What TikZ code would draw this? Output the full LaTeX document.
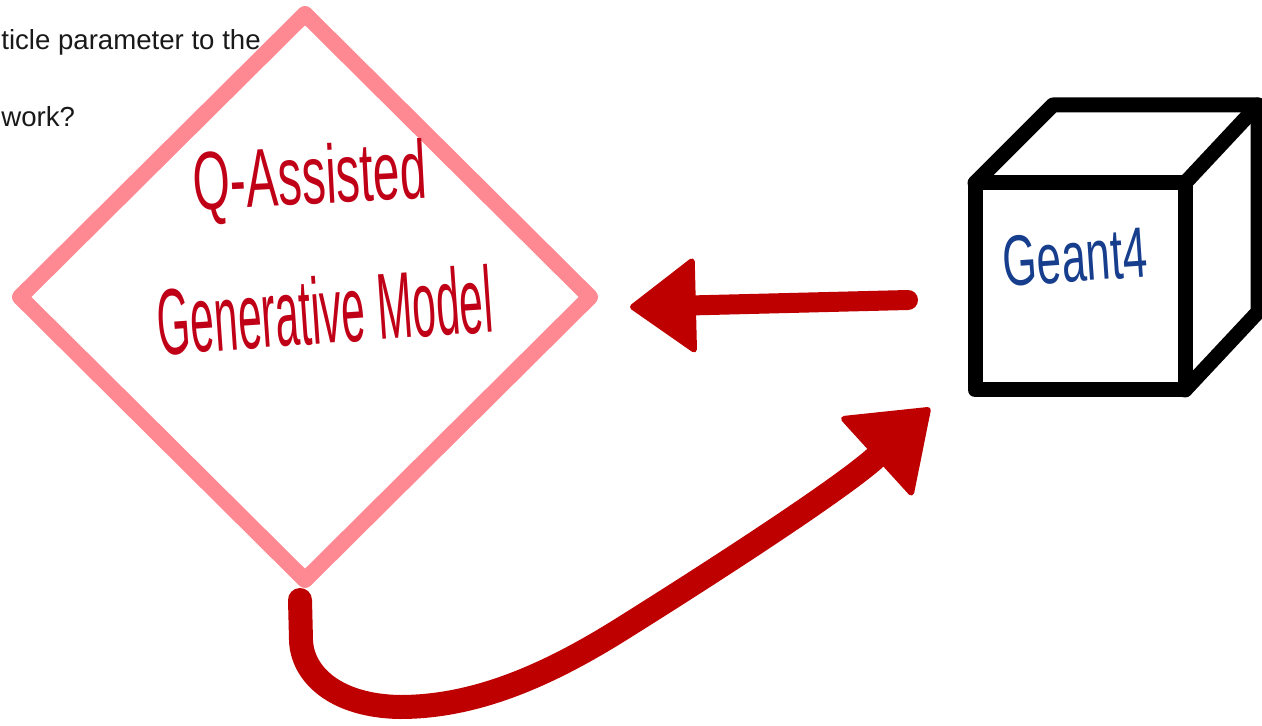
\documentclass[tikz,border=0pt]{standalone}
\usepackage{fontspec}
\setmainfont{Liberation Sans}
\usetikzlibrary{arrows.meta,shapes.geometric}
\definecolor{pinkline}{RGB}{255,137,147}
\definecolor{arrowred}{RGB}{190,0,0}
\definecolor{inkred}{RGB}{192,0,22}
\definecolor{inkblue}{RGB}{22,62,140}
\tikzset{
  cubeline/.style={draw=black, line width=7.5pt, line join=round, line cap=round},
  redarrow/.style={draw=arrowred, line cap=round, line join=round,
    -{Triangle[length=#1, width=1.45*#1, line width=3pt, round]}},
  ink/.style={inner sep=0pt, outer sep=0pt},
  slidetext/.style={inner sep=0pt, font=\fontsize{13.8pt}{16pt}\selectfont, text=black!90}
}
\begin{document}
\begin{tikzpicture}[x=0.5pt,y=-0.5pt]
\useasboundingbox (0,0) rectangle (1262,726);
\clip (0,0) rectangle (1262,726);

% slide text
\node[slidetext, anchor=base west] (s1) at (1,50) {ticle parameter to the};
\node[slidetext, anchor=base west] (s2) at (1,127) {work?};

% diamond
\node[diamond, draw=pinkline, line width=8pt, line join=round, minimum width=285pt,
      minimum height=283pt, inner sep=0pt, outer sep=0pt] (gen) at (305,297) {};
\node[ink, text=inkred, rotate=3] (t1) at (310,182) {\resizebox{117pt}{30pt}{Q-Assisted}};
\node[ink, text=inkred, rotate=4] (t2) at (325,310) {\resizebox{168pt}{34pt}{Generative Model}};

% cube
\node[cubeline, fill=white, minimum width=105pt, minimum height=103.5pt, inner sep=0pt,
      outer sep=0pt] (geant) at (1080,286.5) {};
\coordinate (btl) at (1053,105);
\coordinate (btr) at (1258,105);
\coordinate (bbr) at (1258,312);
\draw[cubeline] (geant.north west) -- (btl) -- (btr) -- (bbr) -- (geant.south east);
\draw[cubeline] (geant.north east) -- (btr);
\node[ink, text=inkblue, rotate=4] (g4) at (1075,257) {\resizebox{72pt}{25pt}{Geant4}};

% arrows
\draw[redarrow=34pt, line width=10pt] ([shift={(-67,13.5)}]geant.west) -- ([shift={(40,10)}]gen.east);
\draw[redarrow=38pt, line width=12pt] ([shift={(-5,20)}]gen.south) -- (301,640)
   .. controls (302,674) and (335,706) .. (400,707)
   .. controls (470,707) and (540,680) .. (620,630)
   .. controls (700,580) and (840,490) .. ([shift={(-45,18)}]geant.south west);
\end{tikzpicture}
\end{document}
